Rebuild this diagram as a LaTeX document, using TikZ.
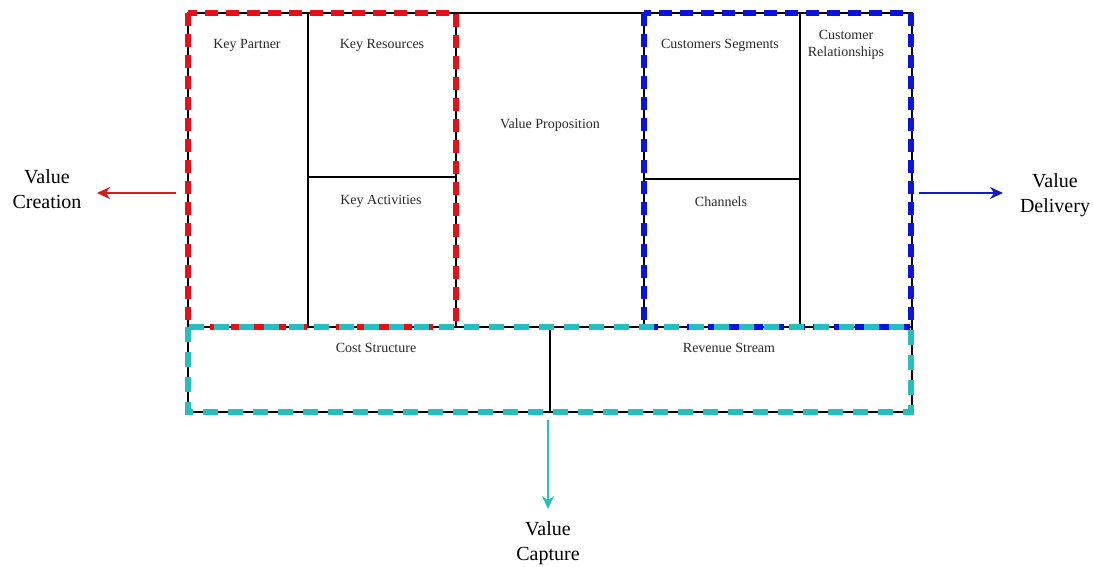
\documentclass[tikz,border=0pt]{standalone}
\usepackage{fontspec}
\setmainfont{Liberation Serif}
\usetikzlibrary{arrows.meta}
\definecolor{vred}{RGB}{232,16,20}
\definecolor{vblue}{RGB}{10,20,225}
\definecolor{vcyan}{RGB}{38,190,192}
\definecolor{txt}{RGB}{40,40,40}
\definecolor{ared}{RGB}{215,25,35}
\definecolor{ablue}{RGB}{20,25,195}
\tikzset{
  grid/.style={line width=2.2pt, black},
  cell/.style={font=\fontsize{14}{17}\selectfont, text=txt, align=center, inner sep=0pt},
  big/.style={font=\fontsize{20}{25}\selectfont, text=black, align=center, inner sep=0pt},
  redbox/.style={line width=5.5pt, vred, dash pattern=on 13pt off 8pt},
  bluebox/.style={line width=5.5pt, vblue, dash pattern=on 13pt off 8pt},
  cyanbox/.style={line width=5.5pt, vcyan, dash pattern=on 15pt off 10pt},
  arr/.style={line width=2.4pt, -{Stealth[length=13pt,width=12pt]}}
}
\begin{document}
\begin{tikzpicture}[x=1pt,y=-1pt]
\useasboundingbox (0,0) rectangle (1093,567);
% grid
\draw[grid] (188,13) rectangle (912,412);
\draw[grid] (188,327) -- (912,327);
\draw[grid] (308,13) -- (308,327);
\draw[grid] (456,13) -- (456,327);
\draw[grid] (644,13) -- (644,327);
\draw[grid] (800,13) -- (800,327);
\draw[grid] (308,177) -- (456,177);
\draw[grid] (644,179) -- (800,179);
\draw[grid] (550,327) -- (550,412);
% dashed groups
\draw[redbox] (188,13) rectangle (456,327);
\draw[bluebox] (644,13) rectangle (911,327);
\draw[cyanbox] (188,327) rectangle (911,412);
% labels
\node[cell] (kp) at (247,45) {Key Partner};
\node[cell] (kr) at (382,45) {Key Resources};
\node[cell] (ka) at (381,201) {Key Activities};
\node[cell] (vp) at (550,125) {Value Proposition};
\node[cell] (cs) at (720,45) {Customers Segments};
\node[cell] (cr) at (846,44.5) {Customer\\Relationships};
\node[cell] (ch) at (721,202) {Channels};
\node[cell] (cost) at (376,348) {Cost Structure};
\node[cell] (rev) at (729,348) {Revenue Stream};
% outcome labels
\node[big] (vcr) at (47,189.5) {Value\\Creation};
\node[big] (vd) at (1055,195.5) {Value\\Delivery};
\node[big] (vca) at (548,543) {Value\\Capture};
% arrows
\coordinate (rs) at (176,193);
\coordinate (re) at (97,193);
\coordinate (bs) at (919,193);
\coordinate (be) at (1003,193);
\coordinate (cs0) at (548,420);
\coordinate (ce) at (548,509);
\draw[arr, ared] (rs) -- (re);
\draw[arr, ablue] (bs) -- (be);
\draw[arr, vcyan] (cs0) -- (ce);
\end{tikzpicture}
\end{document}
